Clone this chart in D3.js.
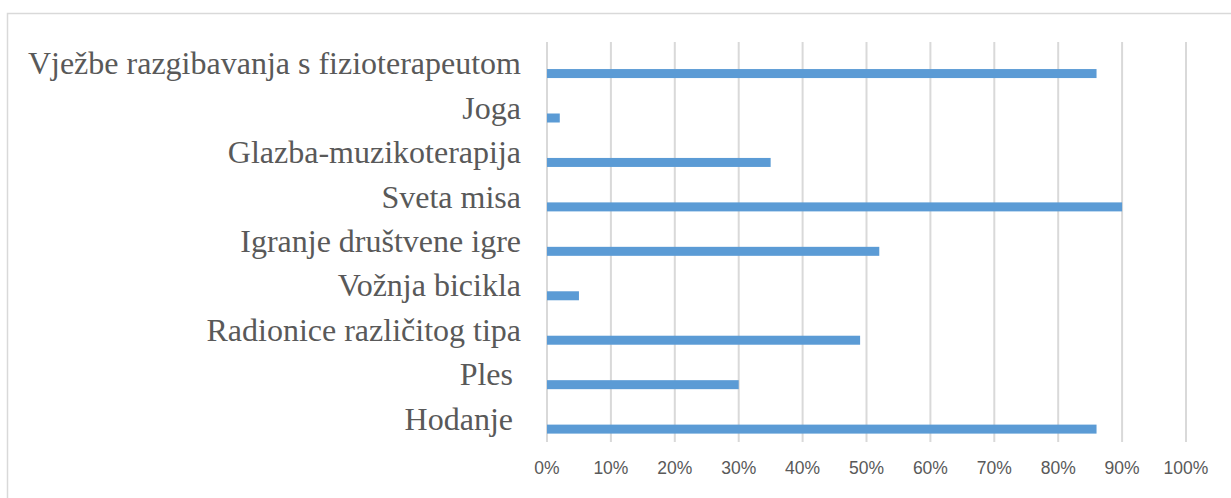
<!DOCTYPE html>
<html lang="hr">
<head>
<meta charset="utf-8">
<title>Aktivnosti</title>
<script src="https://d3js.org/d3.v7.min.js"></script>
<style>
  body { margin: 0; background: #fff; }
  svg { display: block; }
</style>
</head>
<body>
<script>
// data (top to bottom)
var categories = ["Vježbe razgibavanja s fizioterapeutom", "Joga", "Glazba-muzikoterapija",
  "Sveta misa", "Igranje društvene igre", "Vožnja bicikla", "Radionice različitog tipa",
  "Ples ", "Hodanje "];
var values = [86, 2, 35, 90, 52, 5, 49, 30, 86];
var ticks = [0, 10, 20, 30, 40, 50, 60, 70, 80, 90, 100];

var w = 1231, h = 498;
var svg = d3.select("body").append("svg").attr("width", w).attr("height", h);

// chart frame
svg.append("rect")
  .attr("x", 7.5).attr("y", 13.5)
  .attr("width", w + 10).attr("height", h + 10)
  .attr("fill", "none").attr("stroke", "#d9d9d9").attr("stroke-width", 1.5);

var x = d3.scaleLinear().domain([0, 100]).range([547, 1186]);
var y = d3.scaleBand().domain(categories).range([42, 442]);

// gridlines
svg.selectAll("line.grid")
  .data(ticks)
  .enter().append("line")
  .attr("class", "grid")
  .attr("x1", function(d) { return x(d); })
  .attr("x2", function(d) { return x(d); })
  .attr("y1", 42).attr("y2", 442)
  .attr("stroke", "#d9d9d9").attr("stroke-width", 2);

// bars
var barH = 9;
svg.selectAll("rect.bar")
  .data(values)
  .enter().append("rect")
  .attr("class", "bar")
  .attr("x", x(0))
  .attr("y", function(d, i) { return y(categories[i]) + y.bandwidth() * 0.71 - barH / 2; })
  .attr("width", function(d) { return x(d) - x(0); })
  .attr("height", barH)
  .attr("fill", "#5b9bd5");

// category labels
svg.selectAll("text.cat")
  .data(categories)
  .enter().append("text")
  .attr("class", "cat")
  .attr("x", 521)
  .attr("y", function(d) { return y(d) + y.bandwidth() / 2 + 10; })
  .attr("text-anchor", "end")
  .attr("font-family", "Liberation Serif, Times New Roman, serif")
  .attr("font-size", "32px")
  .attr("fill", "#595959")
  .style("white-space", "pre")
  .text(function(d) { return d; });

// x axis tick labels
svg.selectAll("text.tick")
  .data(ticks)
  .enter().append("text")
  .attr("class", "tick")
  .attr("x", function(d) { return x(d); })
  .attr("y", 474)
  .attr("text-anchor", "middle")
  .attr("font-family", "Liberation Sans, Arial, sans-serif")
  .attr("font-size", "17.5px")
  .attr("fill", "#595959")
  .text(function(d) { return d + "%"; });
</script>
</body>
</html>
